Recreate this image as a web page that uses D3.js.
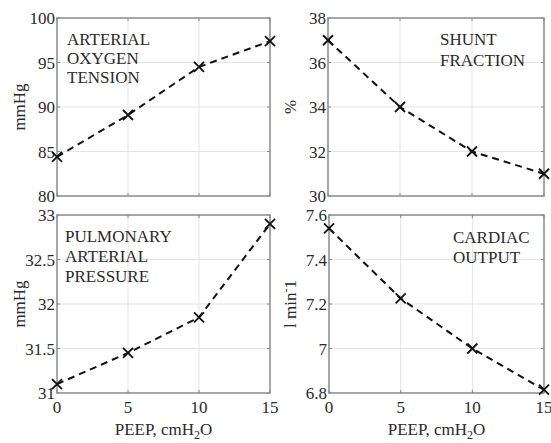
<!DOCTYPE html>
<html><head><meta charset="utf-8">
<script src="https://cdn.jsdelivr.net/npm/d3@7"></script>
<style>body{margin:0;background:#fff}svg{display:block}</style>
</head><body>
<svg id="c" width="551" height="443" font-family="'Liberation Serif', 'Times New Roman', serif"></svg>
<script>
const peep = [0, 5, 10, 15];
const xTicks = [0, 5, 10, 15];
const oxygen = [84.4, 89.1, 94.5, 97.4];
const shunt = [37, 34, 32, 31];
const pulmonary = [31.1, 31.45, 31.85, 32.9];
const cardiac = [7.54, 7.225, 7.0, 6.815];
const oxygenTicks = [80, 85, 90, 95, 100];
const shuntTicks = [30, 32, 34, 36, 38];
const pulmonaryTicks = [31, 31.5, 32, 32.5, 33];
const cardiacTicks = [6.8, 7, 7.2, 7.4, 7.6];

const FONT = "Liberation Serif";
const panels = [
  {x0:57, x1:270, y0:18, y1:196, vals:oxygen, ticks:oxygenTicks, ylab:"mmHg", ylx:25,
   ann:["ARTERIAL","OXYGEN","TENSION"], ax:67, ay:45, dy:19, xlab:false},
  {x0:328, x1:544, y0:18, y1:196, vals:shunt, ticks:shuntTicks, ylab:"%", ylx:296,
   ann:["SHUNT","FRACTION"], ax:440, ay:45, dy:21, xlab:false},
  {x0:57, x1:270, y0:215, y1:393, vals:pulmonary, ticks:pulmonaryTicks, ylab:"mmHg", ylx:25,
   ann:["PULMONARY","ARTERIAL","PRESSURE"], ax:65, ay:242, dy:20, xlab:true},
  {x0:329, x1:544, y0:215, y1:393, vals:cardiac, ticks:cardiacTicks, ylab:"cardiac", ylx:296,
   ann:["CARDIAC","OUTPUT"], ax:453, ay:243, dy:20, xlab:true}
];
const svg = d3.select("#c");
const fs = 17;
function txt(sel){ return sel.attr("font-family",FONT).attr("fill","#2a2a2a"); }
panels.forEach(p => {
  const x = d3.scaleLinear().domain([0,15]).range([p.x0,p.x1]);
  const y = d3.scaleLinear().domain([p.ticks[0], p.ticks[p.ticks.length-1]]).range([p.y1,p.y0]);
  const g = svg.append("g");
  g.selectAll(".gx").data(xTicks.slice(1,-1)).enter().append("line")
    .attr("x1",d=>x(d)).attr("x2",d=>x(d)).attr("y1",p.y0).attr("y2",p.y1)
    .attr("stroke","#e3e3e3").attr("stroke-width",1);
  g.selectAll(".gy").data(p.ticks.slice(1,-1)).enter().append("line")
    .attr("y1",d=>y(d)).attr("y2",d=>y(d)).attr("x1",p.x0).attr("x2",p.x1)
    .attr("stroke","#e3e3e3").attr("stroke-width",1);
  g.selectAll(".tx").data(xTicks).enter().append("line")
    .attr("x1",d=>x(d)).attr("x2",d=>x(d)).attr("y1",p.y1).attr("y2",p.y1-3).attr("stroke","#888");
  g.selectAll(".tx2").data(xTicks).enter().append("line")
    .attr("x1",d=>x(d)).attr("x2",d=>x(d)).attr("y1",p.y0).attr("y2",p.y0+3).attr("stroke","#888");
  g.selectAll(".ty").data(p.ticks).enter().append("line")
    .attr("y1",d=>y(d)).attr("y2",d=>y(d)).attr("x1",p.x0).attr("x2",p.x0+3).attr("stroke","#888");
  g.selectAll(".ty2").data(p.ticks).enter().append("line")
    .attr("y1",d=>y(d)).attr("y2",d=>y(d)).attr("x1",p.x1).attr("x2",p.x1-3).attr("stroke","#888");
  g.append("rect").attr("x",p.x0).attr("y",p.y0).attr("width",p.x1-p.x0).attr("height",p.y1-p.y0)
    .attr("fill","none").attr("stroke","#8a8a8a").attr("stroke-width",1.5);
  txt(g.selectAll(".yl").data(p.ticks).enter().append("text"))
    .attr("x",p.x0-2).attr("y",d=>y(d)+6).attr("text-anchor","end")
    .attr("font-size",fs).text(d=>d);
  if (p.xlab) {
    txt(g.selectAll(".xl").data(xTicks).enter().append("text"))
      .attr("x",d=>x(d)).attr("y",p.y1+20).attr("text-anchor","middle")
      .attr("font-size",fs).text(d=>d);
    const t = txt(g.append("text")).attr("x",(p.x0+p.x1)/2).attr("y",p.y1+42)
      .attr("text-anchor","middle").attr("font-size",fs);
    t.append("tspan").text("PEEP, cmH");
    t.append("tspan").attr("font-size",12).attr("dy",4).text("2");
    t.append("tspan").attr("dy",-4).text("O");
  }
  const yl = txt(g.append("text")).attr("transform",`translate(${p.ylx},${(p.y0+p.y1)/2}) rotate(-90)`)
    .attr("text-anchor","middle").attr("font-size",fs);
  if (p.ylab === "cardiac") {
    yl.append("tspan").text("l min");
    yl.append("tspan").attr("font-size",12).attr("dy",-6).text("-");
    yl.append("tspan").attr("dy",6).text("1");
  } else yl.text(p.ylab);
  p.ann.forEach((s,i)=>{
    txt(g.append("text")).attr("x",p.ax).attr("y",p.ay+i*p.dy).attr("font-size",fs).text(s);
  });
  const line = d3.line().x((d,i)=>x(peep[i])).y(d=>y(d));
  g.append("path").datum(p.vals).attr("d",line).attr("fill","none")
    .attr("stroke","#111").attr("stroke-width",2).attr("stroke-dasharray","7,5");
  const s = 5;
  g.selectAll(".mk").data(p.vals).enter().append("path")
    .attr("d",(d,i)=>{const cx=x(peep[i]), cy=y(d);
      return `M${cx-s},${cy-s}L${cx+s},${cy+s}M${cx-s},${cy+s}L${cx+s},${cy-s}`;})
    .attr("stroke","#111").attr("stroke-width",1.8).attr("fill","none");
});
</script>
</body></html>
